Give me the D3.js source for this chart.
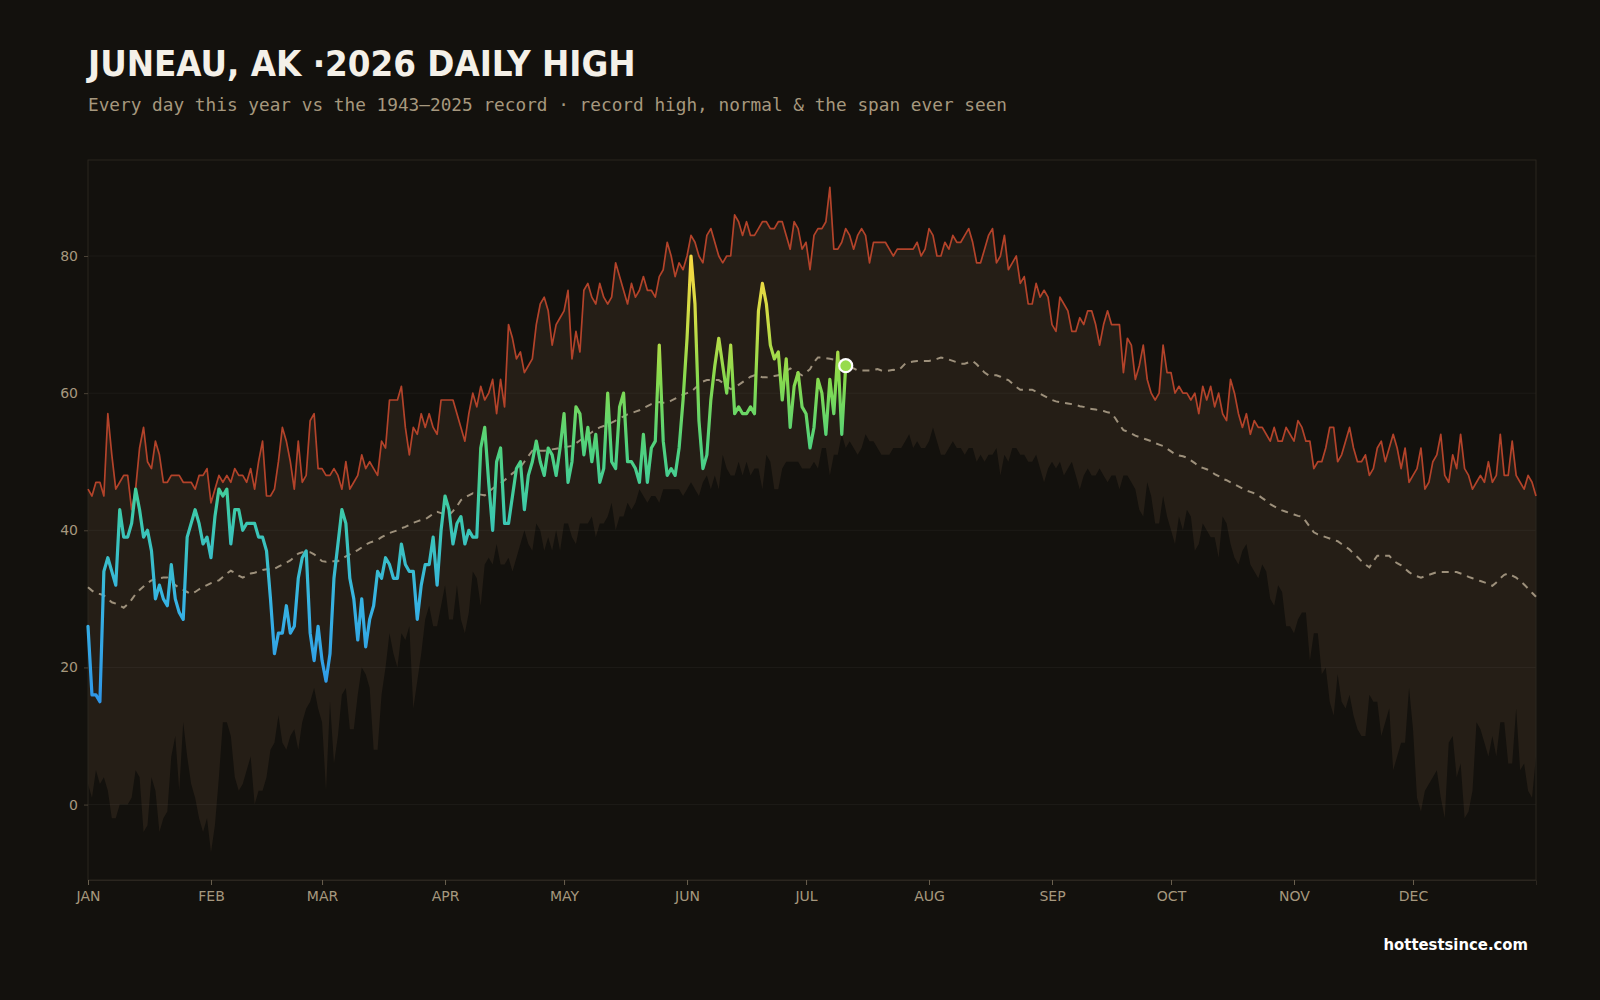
<!DOCTYPE html>
<html>
<head>
<meta charset="utf-8">
<script src="https://cdn.jsdelivr.net/npm/d3@7"></script>
<style>
  body { margin: 0; background: #13110d; }
  svg { display: block; }
</style>
</head>
<body>
<svg class="chart"></svg>
<script>
const width = 1600
const height = 1000
const margin = { top: 160, right: 64, bottom: 120, left: 88 }

const monthLabels = ["JAN", "FEB", "MAR", "APR", "MAY", "JUN", "JUL", "AUG", "SEP", "OCT", "NOV", "DEC"]
const monthStarts = [0, 31, 59, 90, 120, 151, 181, 212, 243, 273, 304, 334]
const yTicks = [0, 20, 40, 60, 80]

// record high per day of year (1943-2025)
const recordHigh = [
    46, 45, 47, 47, 45, 57, 51, 46, 47, 48, 48, 43, 46, 52, 55, 50, 49, 53, 51, 47, 47, 48, 48, 48, 47, 47, 47, 46, 48, 48, 49, 44, 46, 48, 47, 48, 47, 49,
    48, 48, 47, 49, 46, 50, 53, 45, 45, 46, 50, 55, 53, 50, 46, 53, 47, 48, 56, 57, 49, 49, 48, 48, 49, 48, 46, 50, 46, 47, 48, 51, 49, 50, 49, 48,
    53, 52, 59, 59, 59, 61, 55, 51, 55, 54, 57, 55, 57, 55, 54, 59, 59, 59, 59, 57, 55, 53, 57, 60, 58, 61, 59, 60, 62, 57, 62, 58, 70, 68, 65, 66,
    63, 64, 65, 70, 73, 74, 72, 67, 70, 71, 72, 75, 65, 69, 66, 75, 76, 74, 73, 76, 74, 73, 74, 79, 77, 75, 73, 76, 74, 75, 77, 75, 75, 74, 77, 78, 82,
    80, 77, 79, 78, 80, 83, 82, 80, 79, 83, 84, 82, 80, 79, 80, 80, 86, 85, 83, 85, 83, 83, 84, 85, 85, 84, 84, 85, 85, 83, 81, 85, 84, 81, 82, 78, 83,
    84, 84, 85, 90, 81, 81, 82, 84, 83, 81, 83, 84, 83, 79, 82, 82, 82, 82, 81, 80, 81, 81, 81, 81, 81, 82, 80, 81, 84, 83, 80, 80, 82, 81, 83, 82,
    82, 83, 84, 82, 79, 79, 81, 83, 84, 79, 80, 83, 78, 79, 80, 76, 77, 73, 73, 76, 74, 75, 74, 70, 69, 74, 73, 72, 69, 69, 71, 70, 72, 72, 70, 67, 70,
    72, 70, 70, 70, 63, 68, 67, 62, 64, 67, 62, 60, 59, 60, 67, 63, 63, 60, 61, 60, 60, 59, 60, 57, 61, 59, 61, 58, 60, 57, 56, 62, 60, 57, 55, 57,
    54, 56, 55, 55, 54, 53, 55, 53, 53, 55, 54, 53, 56, 55, 53, 53, 49, 50, 50, 52, 55, 55, 50, 51, 53, 55, 52, 50, 50, 51, 48, 49, 52, 53, 50, 52, 54,
    52, 49, 52, 47, 48, 49, 52, 46, 47, 50, 51, 54, 48, 47, 51, 49, 54, 49, 48, 46, 47, 48, 47, 50, 47, 48, 54, 48, 48, 53, 48, 47, 46, 48, 47, 45
]

// record low of the daily high, per day of year
const recordLow = [
    3, 1, 5, 3, 4, 2, -2, -2, 0, 0, 0, 1, 5, 4, -4, -3, 4, 2, -4, -2, -1, 7, 10, 2, 12, 7, 3, 1, -2, -4, -2, -7, -3, 4, 12, 12, 10, 4,
    2, 3, 5, 7, 0, 2, 2, 4, 8, 9, 13, 9, 8, 10, 11, 8, 12, 14, 15, 17, 14, 12, 2, 15, 6, 10, 16, 17, 11, 11, 16, 20, 19, 17, 8, 8,
    16, 20, 25, 22, 20, 25, 24, 26, 14, 18, 22, 27, 29, 26, 26, 29, 32, 27, 27, 32, 27, 25, 28, 34, 33, 29, 35, 36, 35, 38, 35, 35, 36, 34, 36, 38,
    40, 38, 37, 41, 40, 37, 39, 37, 40, 37, 41, 41, 39, 38, 41, 41, 41, 42, 39, 41, 41, 42, 44, 40, 42, 42, 44, 43, 44, 46, 45, 44, 45, 45, 44, 46, 46,
    46, 46, 46, 45, 46, 47, 46, 45, 47, 48, 46, 48, 46, 51, 49, 48, 48, 50, 48, 50, 48, 49, 49, 46, 51, 50, 46, 46, 49, 50, 50, 50, 50, 49, 49, 49, 50,
    49, 52, 52, 48, 51, 51, 54, 52, 53, 52, 51, 52, 54, 53, 53, 52, 51, 51, 51, 52, 52, 52, 53, 54, 52, 53, 52, 52, 53, 55, 53, 51, 51, 52, 53, 52,
    52, 51, 52, 52, 50, 51, 50, 51, 51, 52, 48, 51, 50, 52, 52, 51, 51, 50, 50, 51, 49, 47, 49, 50, 49, 50, 48, 49, 50, 48, 46, 48, 49, 48, 48, 49, 48,
    47, 48, 48, 46, 48, 48, 47, 46, 43, 42, 47, 45, 41, 41, 45, 42, 40, 38, 42, 40, 43, 42, 37, 38, 41, 40, 39, 39, 36, 42, 41, 38, 36, 35, 37, 38,
    35, 34, 33, 35, 34, 30, 29, 32, 31, 26, 26, 25, 27, 28, 28, 21, 25, 25, 19, 20, 15, 13, 19, 15, 14, 16, 13, 11, 10, 10, 16, 15, 15, 10, 12, 14, 5,
    7, 9, 9, 17, 11, 1, -1, 2, 3, 4, 5, 1, -2, 9, 10, 4, 6, -2, -1, 2, 12, 11, 9, 7, 10, 7, 12, 12, 6, 6, 14, 5, 6, 2, 1, 7
]

// normal daily high
const normal = [
    31.7, 31.2, 30.8, 30.7, 30.5, 30.0, 29.5, 29.3, 29.0, 28.7, 29.2, 29.9, 30.7, 31.3, 31.8, 32.3, 32.7, 32.9, 33.0, 33.1, 33.1, 32.6, 32.0, 31.6, 31.3, 31.0, 30.7, 31.0, 31.4, 31.7, 32.0, 32.3, 32.5, 32.7, 33.2, 33.7, 34.1,
    33.8, 33.4, 33.1, 33.4, 33.7, 33.8, 34.0, 34.2, 34.3, 34.3, 34.4, 34.7, 35.0, 35.3, 35.6, 36.1, 36.6, 36.8, 36.8, 36.8, 36.5, 36.0, 35.5, 35.4, 35.5, 35.5, 35.5, 35.8, 36.2, 36.5, 36.8, 37.1, 37.5, 37.9, 38.2, 38.4,
    38.6, 39.0, 39.3, 39.6, 39.8, 40.0, 40.3, 40.5, 40.8, 41.1, 41.3, 41.5, 41.6, 42.0, 42.4, 42.7, 42.5, 42.3, 42.2, 42.8, 43.5, 44.4, 44.8, 45.1, 45.4, 45.3, 45.2, 45.1, 45.6, 46.1, 46.5, 46.9, 47.3, 47.8, 48.3, 48.7, 49.2,
    50.0, 50.8, 51.6, 51.6, 51.6, 51.6, 51.7, 51.8, 51.9, 52.0, 52.1, 52.2, 52.3, 52.7, 53.1, 53.5, 53.9, 54.3, 54.7, 55.0, 55.2, 55.4, 55.7, 56.0, 56.3, 56.6, 56.9, 57.1, 57.3, 57.5, 57.8, 58.1, 58.4, 58.6, 58.7, 58.6, 58.6,
    58.9, 59.2, 59.5, 59.8, 60.0, 60.2, 60.7, 61.2, 61.7, 61.9, 61.9, 61.9, 61.9, 61.5, 61.0, 60.6, 60.8, 61.2, 61.6, 62.0, 62.4, 62.6, 62.5, 62.3, 62.3, 62.4, 62.5, 62.6, 62.9, 63.2, 63.6, 63.3, 62.9, 62.6, 63.0, 63.5,
    64.5, 65.2, 65.2, 65.1, 65.0, 64.9, 64.8, 64.7, 64.4, 64.0, 63.6, 63.3, 63.3, 63.3, 63.3, 63.4, 63.5, 63.3, 63.2, 63.3, 63.4, 63.3, 63.7, 64.3, 64.5, 64.6, 64.7, 64.7, 64.7, 64.7, 64.8, 65.0, 65.2, 65.1, 64.9, 64.7, 64.5,
    64.3, 64.3, 64.5, 64.7, 64.2, 63.6, 63.0, 62.6, 62.6, 62.6, 62.4, 62.1, 61.9, 61.4, 60.9, 60.5, 60.5, 60.5, 60.5, 60.2, 59.9, 59.6, 59.3, 59.0, 58.8, 58.7, 58.6, 58.5, 58.4, 58.3, 58.1, 58.0, 57.8, 57.7, 57.6, 57.5,
    57.4, 57.2, 57.1, 56.3, 55.4, 54.6, 54.4, 54.1, 53.8, 53.6, 53.4, 53.2, 53.0, 52.7, 52.5, 52.3, 51.9, 51.5, 51.1, 50.9, 50.8, 50.6, 50.2, 49.8, 49.3, 49.1, 48.9, 48.6, 48.2, 47.9, 47.5, 47.3, 47.0, 46.7, 46.4, 46.1, 45.8,
    45.6, 45.4, 45.1, 44.7, 44.3, 43.8, 43.5, 43.2, 42.9, 42.7, 42.5, 42.3, 42.1, 42.0, 41.3, 40.5, 39.7, 39.4, 39.2, 39.0, 38.8, 38.6, 38.4, 38.0, 37.6, 37.2, 36.6, 36.1, 35.5, 35.0, 34.6, 35.5, 36.3, 36.3, 36.3, 36.3, 35.6,
    35.2, 34.9, 34.4, 33.9, 33.5, 33.3, 33.1, 33.3, 33.5, 33.7, 33.9, 33.9, 33.9, 33.9, 33.9, 33.9, 33.7, 33.5, 33.2, 33.0, 32.8, 32.6, 32.4, 32.2, 31.9, 32.4, 33.0, 33.5, 33.7, 33.4, 33.1, 32.6, 32.1, 31.5, 30.9, 30.3
]

// 2026 daily highs so far (Jan 1 - Jul 11)
const highs2026 = [
    26, 16, 16, 15, 34, 36, 34, 32, 43, 39,
    39, 41, 46, 43, 39, 40, 37, 30, 32, 30,
    29, 35, 30, 28, 27, 39, 41, 43, 41, 38,
    39, 36, 42, 46, 45, 46, 38, 43, 43, 40,
    41, 41, 41, 39, 39, 37, 30, 22, 25, 25,
    29, 25, 26, 33, 36, 37, 25, 21, 26, 21,
    18, 22, 33, 38, 43, 41, 33, 30, 24, 30,
    23, 27, 29, 34, 33, 36, 35, 33, 33, 38,
    35, 34, 34, 27, 32, 35, 35, 39, 32, 40,
    45, 43, 38, 41, 42, 38, 40, 39, 39, 52,
    55, 47, 40, 50, 52, 41, 41, 45, 49, 50,
    43, 48, 50, 53, 50, 48, 52, 51, 48, 52,
    57, 47, 50, 58, 57, 51, 55, 50, 54, 47,
    49, 60, 50, 49, 58, 60, 50, 50, 49, 47,
    54, 47, 52, 53, 67, 53, 48, 49, 48, 52,
    59, 68, 80, 73, 56, 49, 51, 59, 64, 68,
    64, 60, 67, 57, 58, 57, 57, 58, 57, 72,
    76, 73, 67, 65, 66, 59, 65, 55, 61, 63,
    58, 57, 52, 55, 62, 60, 54, 62, 57, 66,
    54, 64
]

const tempStops = [15, 30, 42, 52, 62, 70, 78]
const tempColors = ["#2f96e8", "#37b4e2", "#3cc9ae", "#4fd27e", "#86da4e", "#c8dc46", "#f2d842"]

const svg = d3.select("svg.chart")
    .attr("width", width)
    .attr("height", height)
    .style("font-family", "'DejaVu Sans', sans-serif")

svg.append("rect")
    .attr("width", width)
    .attr("height", height)
    .attr("fill", "#13110d")

const x = d3.scaleLinear()
    .domain([0, 365])
    .range([margin.left, width - margin.right])

const y = d3.scaleLinear()
    .domain([-11, 94])
    .range([height - margin.bottom, margin.top])

const tempColor = d3.scaleLinear().domain(tempStops).range(tempColors).clamp(true)

// header
svg.append("text")
    .attr("x", 88)
    .attr("y", 76)
    .attr("fill", "#f4f0e8")
    .style("font-family", "'DejaVu Sans Condensed', 'DejaVu Sans', sans-serif")
    .style("font-stretch", "condensed")
    .style("font-weight", "bold")
    .style("font-size", "36.3px")
    .text("JUNEAU, AK ·2026 DAILY HIGH")

svg.append("text")
    .attr("x", 88)
    .attr("y", 111)
    .attr("fill", "#a6987e")
    .style("font-family", "'DejaVu Sans Mono', monospace")
    .style("font-size", "17.75px")
    .text("Every day this year vs the 1943–2025 record · record high, normal & the span ever seen")

// gradient for this year's line, keyed by temperature
const grad = svg.append("defs").append("linearGradient")
    .attr("id", "tempGrad")
    .attr("gradientUnits", "userSpaceOnUse")
    .attr("x1", 0).attr("x2", 0)
    .attr("y1", y(tempStops[0]))
    .attr("y2", y(tempStops[tempStops.length - 1]))

tempStops.forEach((t, i) => {
    grad.append("stop")
        .attr("offset", (t - tempStops[0]) / (tempStops[tempStops.length - 1] - tempStops[0]))
        .attr("stop-color", tempColors[i])
})

const plot = svg.append("g")

// span ever seen
plot.append("path")
    .datum(recordHigh)
    .attr("fill", "#251e16")
    .attr("d", d3.area()
        .x((d, i) => x(i))
        .y0((d, i) => y(recordLow[i]))
        .y1(d => y(d)))

// grid
plot.append("g")
    .selectAll("line")
    .data(yTicks)
    .join("line")
    .attr("x1", x(0))
    .attr("x2", x(365))
    .attr("y1", d => y(d))
    .attr("y2", d => y(d))
    .attr("stroke", "#ffffff")
    .attr("stroke-opacity", 0.045)

plot.append("rect")
    .attr("x", x(0))
    .attr("y", margin.top)
    .attr("width", x(365) - x(0))
    .attr("height", height - margin.bottom - margin.top)
    .attr("fill", "none")
    .attr("stroke", "#2b261f")

// record high
plot.append("path")
    .datum(recordHigh)
    .attr("fill", "none")
    .attr("stroke", "#b3432a")
    .attr("stroke-width", 1.7)
    .attr("stroke-linejoin", "round")
    .attr("d", d3.line().x((d, i) => x(i)).y(d => y(d)))

// normal
plot.append("path")
    .datum(normal)
    .attr("fill", "none")
    .attr("stroke", "#9d907b")
    .attr("stroke-width", 2)
    .attr("stroke-dasharray", "7,6")
    .attr("d", d3.line().x((d, i) => x(i)).y(d => y(d)))

// 2026
plot.append("path")
    .datum(highs2026)
    .attr("fill", "none")
    .attr("stroke", "url(#tempGrad)")
    .attr("stroke-width", 3.2)
    .attr("stroke-linejoin", "round")
    .attr("stroke-linecap", "round")
    .attr("d", d3.line().x((d, i) => x(i)).y(d => y(d)))

const lastDay = highs2026.length - 1
plot.append("circle")
    .attr("cx", x(lastDay))
    .attr("cy", y(highs2026[lastDay]))
    .attr("r", 6.5)
    .attr("fill", tempColor(highs2026[lastDay]))
    .attr("stroke", "#ffffff")
    .attr("stroke-width", 2.2)

// axes
const yAxis = svg.append("g")
    .attr("transform", `translate(${x(0)},0)`)
    .call(d3.axisLeft(y).tickValues(yTicks).tickSize(4).tickPadding(6))
yAxis.select(".domain").remove()
yAxis.selectAll("line").attr("stroke", "#4a4236")
yAxis.selectAll("text")
    .attr("fill", "#a6987e")
    .style("font-size", "14px")
    .style("font-family", "'DejaVu Sans', sans-serif")

const xAxis = svg.append("g")
    .attr("transform", `translate(0,${height - margin.bottom})`)
    .call(d3.axisBottom(x).tickValues(monthStarts).tickFormat((d, i) => monthLabels[i]).tickSize(5).tickPadding(6))
xAxis.select(".domain").attr("stroke", "#2b261f")
xAxis.selectAll("line").attr("stroke", "#6a604f")
xAxis.selectAll("text")
    .attr("fill", "#a6987e")
    .style("font-size", "14px")
    .style("font-family", "'DejaVu Sans', sans-serif")

svg.append("text")
    .attr("x", 1528)
    .attr("y", 950)
    .attr("text-anchor", "end")
    .attr("fill", "#ffffff")
    .style("font-family", "'DejaVu Sans Condensed', 'DejaVu Sans', sans-serif")
    .style("font-stretch", "condensed")
    .style("font-weight", "bold")
    .style("font-size", "16.5px")
    .text("hottestsince.com")
</script>
</body>
</html>
